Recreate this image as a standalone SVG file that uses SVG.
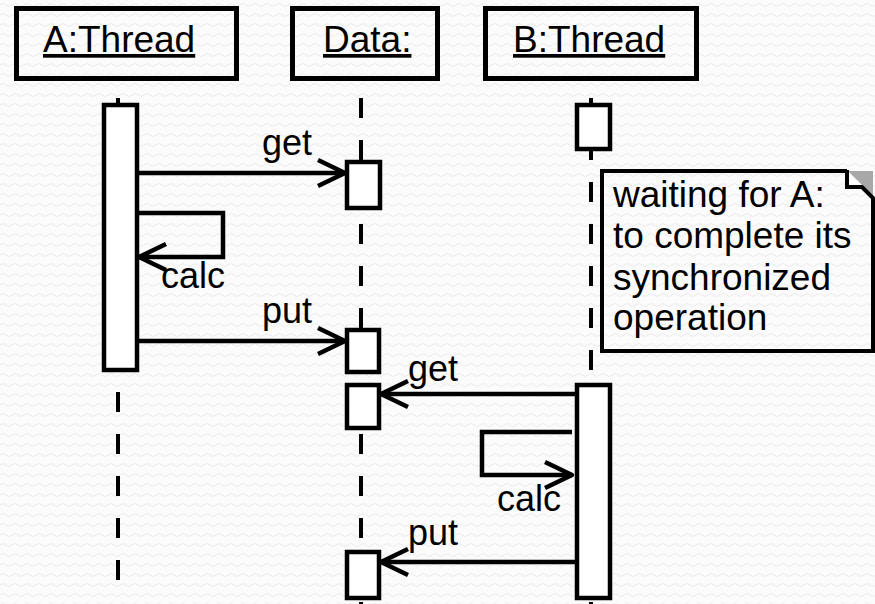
<svg xmlns="http://www.w3.org/2000/svg" width="875" height="604" viewBox="0 0 875 604">
  <style>
    .box { fill: none; stroke: #000; stroke-width: 5; }
    .act { fill: #fff; stroke: #000; stroke-width: 4.5; }
    .life { stroke: #000; stroke-width: 4; stroke-dasharray: 20 22; fill: none; }
    .msg { fill: none; stroke: #000; stroke-width: 4.5; }
    .hdr { font-family: "Liberation Sans", Arial, sans-serif; font-size: 37px; fill: #000; text-decoration: underline; }
    .lbl { font-family: "Liberation Sans", Arial, sans-serif; font-size: 36px; fill: #000; }
    .note { font-family: "Liberation Sans", Arial, sans-serif; font-size: 37px; fill: #000; }
  </style>
  <defs>
    <pattern id="bg" width="12" height="10" patternUnits="userSpaceOnUse">
      <rect width="12" height="10" fill="#fbfbfb"/>
      <path d="M0,5 Q3,2 6,5 T12,5" fill="none" stroke="#ebebeb" stroke-width="1"/>
    </pattern>
    <marker id="open" markerUnits="userSpaceOnUse" markerWidth="40" markerHeight="40" viewBox="-35 -20 40 40" refX="0" refY="0" orient="auto" overflow="visible">
      <path d="M-27,-13 L0,0 L-27,13" fill="none" stroke="#000" stroke-width="4.5" stroke-linejoin="round"/>
    </marker>
  </defs>
  <rect width="875" height="604" fill="url(#bg)"/>

  <!-- lifelines -->
  <g id="lifelines">
    <line class="life" x1="118" y1="98" x2="118" y2="582"/>
    <line class="life" x1="361" y1="98" x2="361" y2="604"/>
    <line class="life" x1="591" y1="98" x2="591" y2="604"/>
  </g>

  <!-- object headers -->
  <g id="A-Thread">
    <rect class="box" x="16.5" y="8.5" width="220" height="70"/>
    <text class="hdr" x="43" y="52">A:Thread</text>
    <rect class="act" x="104" y="105" width="33" height="265"/>
  </g>
  <g id="Data">
    <rect class="box" x="292.5" y="8.5" width="145" height="70"/>
    <text class="hdr" x="323" y="52">Data:</text>
    <rect class="act" x="347" y="162" width="33" height="46"/>
    <rect class="act" x="347" y="330" width="32" height="42"/>
    <rect class="act" x="347" y="385" width="32" height="43"/>
    <rect class="act" x="347" y="552" width="32" height="46"/>
  </g>
  <g id="B-Thread">
    <rect class="box" x="485.5" y="8.5" width="211" height="70"/>
    <text class="hdr" x="513" y="52">B:Thread</text>
    <rect class="act" x="577" y="105" width="33" height="44"/>
    <rect class="act" x="577" y="385" width="33" height="213"/>
  </g>

  <!-- note -->
  <g id="note">
    <path d="M847,171 H602 V351 H873 V197" fill="none" stroke="#000" stroke-width="4"/>
    <polygon points="848,171 873,171 873,196" fill="#a8a8a8"/>
    <polygon points="847,171 847,187 862,187 873,198" fill="#fff"/>
    <path d="M847,170 V187 H862 L874,199" fill="none" stroke="#000" stroke-width="4"/>
    <text class="note" x="613" y="207">waiting for A:</text>
    <text class="note" x="613" y="248">to complete its</text>
    <text class="note" x="613" y="290">synchronized</text>
    <text class="note" x="613" y="330">operation</text>
  </g>

  <!-- messages -->
  <g id="connectors">
    <line class="msg" x1="139" y1="173" x2="345" y2="173" marker-end="url(#open)"/>
    <path class="msg" d="M137,213 H223 V257 H139" marker-end="url(#open)"/>
    <line class="msg" x1="139" y1="341" x2="345" y2="341" marker-end="url(#open)"/>
    <line class="msg" x1="575" y1="394" x2="381" y2="394" marker-end="url(#open)"/>
    <path class="msg" d="M572,432 H482 V475 H572" marker-end="url(#open)"/>
    <line class="msg" x1="575" y1="562" x2="381" y2="562" marker-end="url(#open)"/>
  </g>
  <g id="labels">
    <text class="lbl" x="262" y="155">get</text>
    <text class="lbl" x="161" y="288">calc</text>
    <text class="lbl" x="262" y="323">put</text>
    <text class="lbl" x="408" y="381">get</text>
    <text class="lbl" x="497" y="511">calc</text>
    <text class="lbl" x="408" y="545">put</text>
  </g>
</svg>
